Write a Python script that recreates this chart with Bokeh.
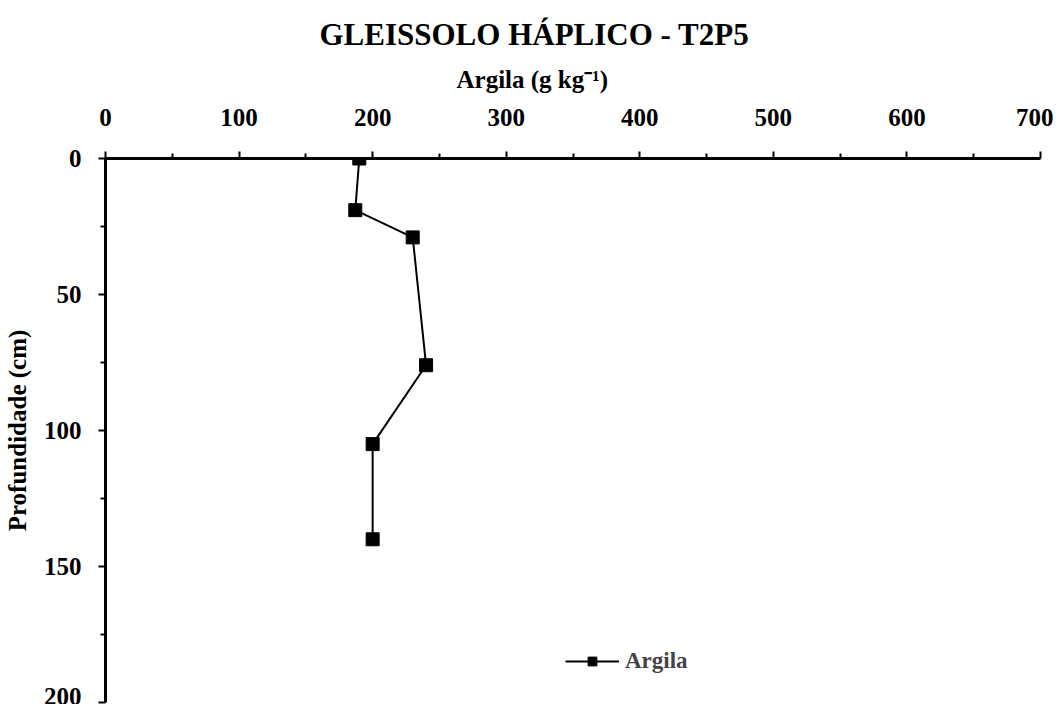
from bokeh.plotting import figure
from bokeh.models import Range1d, FixedTicker, Legend, LegendItem, Title
from bokeh.embed import file_html
from bokeh.resources import INLINE

# Data
argila = [190, 187, 230, 240, 200, 200]
profundidade = [0, 19, 29, 76, 105, 140]
x_ticks = [0, 100, 200, 300, 400, 500, 600, 700]
y_ticks = [0, 50, 100, 150, 200]

FONT = "Liberation Serif"

p = figure(width=1053, height=704, output_backend="svg", toolbar_location=None,
           x_axis_location="above", x_range=Range1d(0, 700), y_range=Range1d(200, 0),
           min_border_left=103, min_border_top=158, min_border_right=13, min_border_bottom=2)
p.outline_line_color = None
p.xgrid.visible = False
p.ygrid.visible = False

for ax in (p.xaxis[0], p.yaxis[0]):
    ax.axis_line_width = 3
    ax.axis_line_color = "black"
    ax.major_tick_line_width = 2
    ax.minor_tick_line_width = 2
    ax.major_tick_out = 7
    ax.major_tick_in = 0
    ax.minor_tick_out = 5
    ax.minor_tick_in = 0
    ax.major_label_text_font = FONT
    ax.major_label_text_font_style = "bold"
    ax.major_label_text_font_size = "25px"
    ax.major_label_text_color = "black"
    ax.axis_label_text_font = FONT
    ax.axis_label_text_font_style = "bold"
    ax.axis_label_text_color = "black"

p.xaxis[0].ticker = FixedTicker(ticks=x_ticks, minor_ticks=[50, 150, 250, 350, 450, 550, 650])
p.yaxis[0].ticker = FixedTicker(ticks=y_ticks, minor_ticks=[25, 75, 125, 175])
p.yaxis[0].axis_label = "Profundidade (cm)"
p.yaxis[0].axis_label_text_font_size = "25px"
p.xaxis[0].major_label_standoff = 26
p.yaxis[0].major_label_standoff = 17
p.yaxis[0].axis_label_standoff = 10

# x-axis title and chart title as stacked titles (centred on the page, not on the frame)
x_title = Title(text="Argila (g kg⁻¹)", align="left", offset=351, text_font=FONT,
                text_font_size="25px", text_font_style="bold", text_color="black", standoff=25)
p.add_layout(x_title, "above")
title = Title(text="GLEISSOLO HÁPLICO - T2P5", align="left", offset=214, text_font=FONT,
              text_font_size="31px", text_font_style="bold", text_color="black", standoff=0)
p.add_layout(title, "above")

r_line = p.line(argila, profundidade, line_color="black", line_width=2)
r_pts = p.scatter(argila, profundidade, marker="square", size=13, fill_color="black", line_color="black")

legend = Legend(items=[LegendItem(label="Argila", renderers=[r_line, r_pts])],
                location=(460, 28), border_line_color=None, background_fill_alpha=0,
                label_text_font=FONT, label_text_font_style="bold", label_text_font_size="23px",
                glyph_width=54, glyph_height=22, label_standoff=6, padding=2, margin=0)
p.add_layout(legend, "center")

open("out.html", "w").write(file_html(p, INLINE))
